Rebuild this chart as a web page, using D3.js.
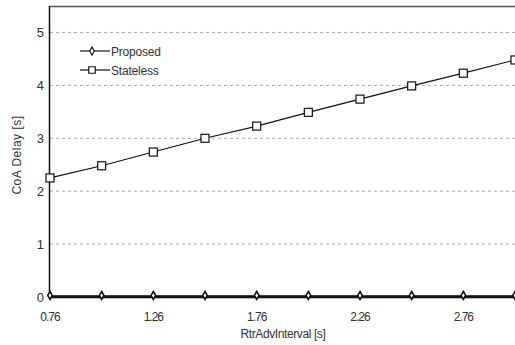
<!DOCTYPE html>
<meta charset="utf-8">
<style>
body { margin: 0; background: #fff; }
text { font-family: "Liberation Sans", Arial, sans-serif; fill: #333; }
.grid line { stroke: #aaa; stroke-dasharray: 3,3; stroke-width: 1px; }
.line { fill: none; stroke: #111; stroke-width: 1.2px; }
</style>
<svg width="515" height="345"></svg>
<script src="https://d3js.org/d3.v7.min.js"></script>
<script>
// data
const xValues = [0.76, 1.01, 1.26, 1.51, 1.76, 2.01, 2.26, 2.51, 2.76, 3.01];
const proposed = [0.01, 0.01, 0.01, 0.01, 0.01, 0.01, 0.01, 0.01, 0.01, 0.01];
const stateless = [2.25, 2.48, 2.74, 3.0, 3.23, 3.49, 3.74, 3.99, 4.23, 4.48];
const xTicks = [0.76, 1.26, 1.76, 2.26, 2.76];
const yTicks = [0, 1, 2, 3, 4, 5];

const mLeft = 50, mRight = 515, mTop = 6, mBottom = 297;
const svg = d3.select("svg");

const x = d3.scaleLinear().domain([0.76, 3.01]).range([mLeft, mRight]);
const y = d3.scaleLinear().domain([0, 5.5]).range([mBottom, mTop]);

// grid
svg.append("g").attr("class", "grid")
  .selectAll("line").data(yTicks.filter(d => d > 0)).enter().append("line")
  .attr("x1", mLeft).attr("x2", mRight)
  .attr("y1", d => y(d)).attr("y2", d => y(d));

// frame
svg.append("line").attr("x1", mLeft).attr("x2", mRight).attr("y1", mTop + 0.5).attr("y2", mTop + 0.5)
  .style("stroke", "#555").style("stroke-width", 1.5);
svg.append("line").attr("x1", mLeft - 0.5).attr("x2", mLeft - 0.5).attr("y1", mTop).attr("y2", mBottom)
  .style("stroke", "#111").style("stroke-width", 1.5);
svg.append("line").attr("x1", mLeft).attr("x2", mRight).attr("y1", mBottom).attr("y2", mBottom)
  .style("stroke", "#111").style("stroke-width", 2.5);

// tick labels
svg.append("g").selectAll("text").data(yTicks).enter().append("text")
  .attr("x", mLeft - 6).attr("y", d => y(d) + 5)
  .attr("text-anchor", "end").style("font-size", "13px")
  .text(d => d);
svg.append("g").selectAll("text").data(xTicks).enter().append("text")
  .attr("x", d => x(d)).attr("y", mBottom + 24)
  .attr("text-anchor", "middle").style("font-size", "12px").style("letter-spacing", "-1px")
  .text(d => d.toFixed(2));

// axis titles
svg.append("text").attr("x", 283).attr("y", 338).attr("text-anchor", "middle")
  .style("font-size", "12px").style("letter-spacing", "-0.4px").text("RtrAdvInterval [s]");
svg.append("text").attr("transform", "translate(21,155) rotate(-90)").attr("text-anchor", "middle")
  .style("font-size", "12px").style("letter-spacing", "0.5px").text("CoA Delay [s]");

const line = d3.line().x((d, i) => x(xValues[i])).y(d => y(d));

// stateless
svg.append("path").datum(stateless).attr("class", "line").attr("d", line);
svg.append("g").selectAll("rect").data(stateless).enter().append("rect")
  .attr("x", (d, i) => x(xValues[i]) - 4).attr("y", d => y(d) - 4)
  .attr("width", 8).attr("height", 8)
  .style("fill", "#fff").style("stroke", "#111").style("stroke-width", 1.2);

// proposed
svg.append("path").datum(proposed).attr("class", "line").style("stroke-width", 2.5).attr("d", line);
const diamond = d3.symbol().type(d3.symbolDiamond).size(18);
svg.append("g").selectAll("path").data(proposed).enter().append("path")
  .attr("d", diamond)
  .attr("transform", (d, i) => "translate(" + x(xValues[i]) + "," + (y(d) - 1) + ")")
  .style("fill", "#fff").style("stroke", "#111").style("stroke-width", 1.6);

// legend
const legend = [
  { name: "Proposed", sym: "diamond" },
  { name: "Stateless", sym: "square" }
];
const lg = svg.append("g").selectAll("g").data(legend).enter().append("g")
  .attr("transform", (d, i) => "translate(80," + (51 + i * 19) + ")");
lg.append("line").attr("x1", 0).attr("x2", 30).style("stroke", "#111").style("stroke-width", 1.2);
lg.append("path")
  .attr("d", d => d.sym === "diamond" ? diamond() : d3.symbol().type(d3.symbolSquare).size(42)())
  .attr("transform", "translate(12,0)")
  .style("fill", "#fff").style("stroke", "#111").style("stroke-width", 1.2);
lg.append("text").attr("x", 31).attr("y", 4.5).style("font-size", "12px").style("letter-spacing", "-0.2px").text(d => d.name);
</script>
